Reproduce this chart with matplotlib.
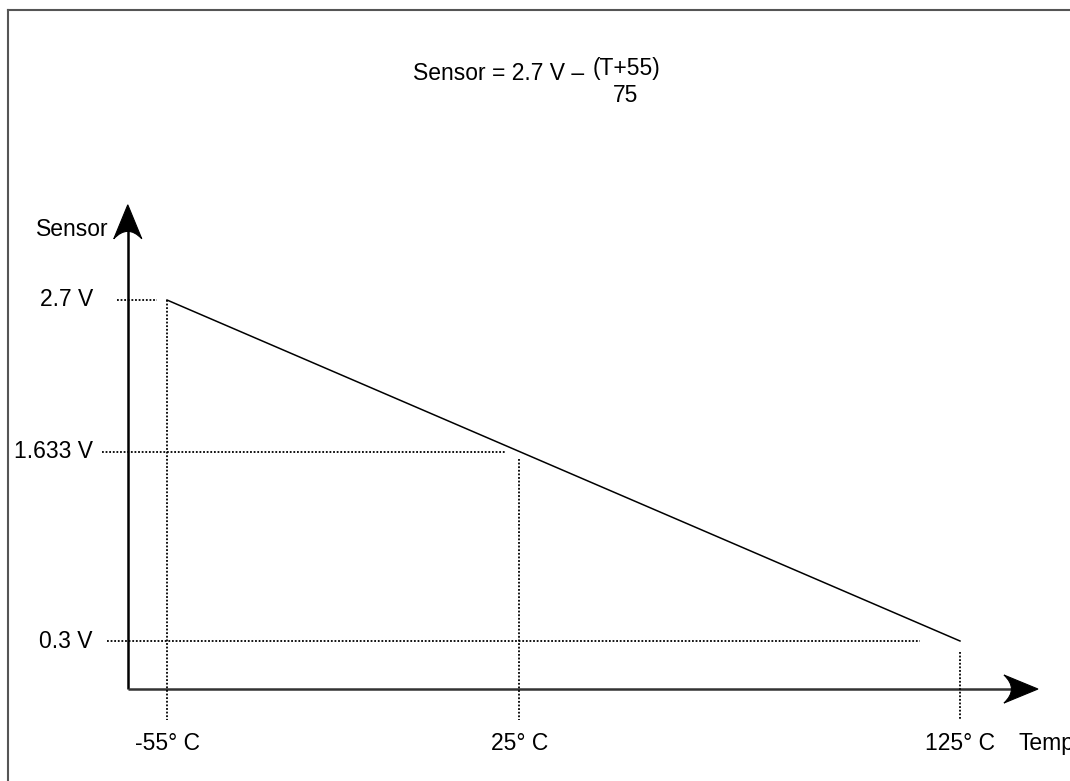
import matplotlib
matplotlib.use('Agg')  # no display in the sandbox
import matplotlib.pyplot as plt
from matplotlib.path import Path
from matplotlib.patches import PathPatch
from matplotlib.lines import Line2D

# Sensor transfer line end points (temperature in deg C, output in volts)
temps = [-55, 125]
volts = [2.7, 0.3]

# Marked points on the axes
temp_ticks = [-55, 25, 125]
temp_labels = ['-55° C', '25° C', '125° C']
volt_ticks = [2.7, 1.633, 0.3]
volt_labels = ['2.7 V', '1.633 V', '0.3 V']

FONT = ['Liberation Sans', 'DejaVu Sans']
FS = 16.5

# Figure geometry (pixels), data-to-pixel scale picked so the diagram fits like the original
W, H = 1070, 781
PX_X = 793 / 180.0   # pixels per deg C
PX_Y = 341 / 2.4     # pixels per volt


def head(ax, tip, direction):
    # concave arrow head, sized in pixels then mapped to data units
    dx, dy = 1.0 / PX_X, 1.0 / PX_Y
    L, Wd, notch = 34, 14, 19
    if direction == 'up':
        pts = [(0, 0), (-Wd, -L), (0, -notch), (Wd, -L), (0, 0)]
    else:
        pts = [(0, 0), (-L, Wd), (-notch, 0), (-L, -Wd), (0, 0)]
    verts = [(tip[0] + px * dx, tip[1] + py * dy) for px, py in pts]
    codes = [Path.MOVETO, Path.LINETO, Path.CURVE3, Path.CURVE3, Path.CLOSEPOLY]
    ax.add_patch(PathPatch(Path(verts, codes), facecolor='black', edgecolor='black', lw=0.8, zorder=5))


def main():
    fig = plt.figure(figsize=(W / 100, H / 100), dpi=100)
    ax = fig.add_axes([0, 0, 1, 1])
    ax.set_xlim(-55 - 167 / PX_X, -55 - 167 / PX_X + W / PX_X)
    ax.set_ylim(0.3 - 140 / PX_Y, 0.3 - 140 / PX_Y + H / PX_Y)
    ax.axis('off')

    # outer frame (only top and left edges visible in the original)
    fig.add_artist(Line2D([8 / W, 8 / W], [0, 1 - 9.5 / H], color='#555555', lw=1.5))
    fig.add_artist(Line2D([8 / W, 1], [1 - 9.5 / H, 1 - 9.5 / H], color='#555555', lw=1.5))

    # axes with arrows
    x0, y0 = -63.9, -0.038
    ytop, xend = 3.37, 142.7
    ax.plot([x0, x0], [y0, ytop - 20 / PX_Y], color='black', lw=1.8, solid_capstyle='butt')
    ax.plot([x0, xend - 20 / PX_X], [y0, y0], color='#333333', lw=1.8, solid_capstyle='butt')
    head(ax, (x0, ytop), 'up')
    head(ax, (xend, y0), 'right')

    # dotted guides
    dots = dict(color='black', lw=1.3, linestyle=(0, (1, 1)))
    bottom = -0.256
    ax.plot([-66.4, -57.3], [2.7, 2.7], **dots)
    ax.plot([-69.8, 21.7], [1.633, 1.633], **dots)
    ax.plot([-68.6, 115.9], [0.3, 0.3], **dots)
    ax.plot([-55, -55], [2.7, bottom], **dots)
    ax.plot([25, 25], [1.58, bottom], **dots)
    ax.plot([125, 125], [0.22, bottom], **dots)

    # sensor output line
    ax.plot(temps, volts, color='black', lw=1.1)

    # tick labels
    for v, lab in zip(volt_ticks, volt_labels):
        ax.text(-71.8, v, lab, ha='right', va='center', fontsize=FS, family=FONT)
    for t, lab in zip(temp_ticks, temp_labels):
        ax.text(t, -0.418, lab, ha='center', va='center', fontsize=FS, family=FONT)
    ax.text(138.2, -0.418, 'Temp', ha='left', va='center', fontsize=FS, family=FONT)
    ax.text(-84.7, 3.193, 'Sensor', ha='left', va='center', fontsize=FS, family=FONT)

    # formula at the top
    fig.text(413 / W, 1 - 74 / H, 'Sensor = 2.7 V –', ha='left', va='center', fontsize=FS, family=FONT)
    fig.text(626 / W, 1 - 69 / H, '(T+55)', ha='center', va='center', fontsize=FS, family=FONT)
    fig.text(626 / W, 1 - 95 / H, '75', ha='center', va='center', fontsize=FS, family=FONT)

    fig.savefig('out.png', dpi=100)
    plt.close(fig)


if __name__ == "__main__":
    main()
